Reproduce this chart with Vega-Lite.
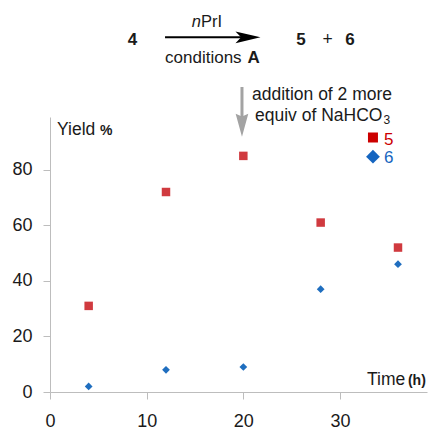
{
  "$schema": "https://vega.github.io/schema/vega-lite/v6.json",
  "width": 377,
  "height": 275,
  "autosize": "none",
  "padding": {"left": 50, "top": 117, "right": 5, "bottom": 37},
  "background": "white",
  "config": {"view": {"stroke": null}, "font": "Liberation Sans"},
  "datasets": {
    "yields": [
      {"series": "5", "time": 4, "yield": 31},
      {"series": "5", "time": 12, "yield": 72},
      {"series": "5", "time": 20, "yield": 85},
      {"series": "5", "time": 28, "yield": 61},
      {"series": "5", "time": 36, "yield": 52},
      {"series": "6", "time": 4, "yield": 2},
      {"series": "6", "time": 12, "yield": 8},
      {"series": "6", "time": 20, "yield": 9},
      {"series": "6", "time": 28, "yield": 37},
      {"series": "6", "time": 36, "yield": 46}
    ]
  },
  "encoding": {
    "x": {
      "field": "time", "type": "quantitative",
      "scale": {"domain": [0, 39], "nice": false, "zero": false},
      "axis": {"title": null, "values": [0, 10, 20, 30], "grid": false, "labelFlush": false,
        "domainColor": "#bdbdbd", "tickColor": "#bdbdbd", "tickSize": 7, "labelFontSize": 18,
        "labelColor": "#1a1a1a", "labelPadding": 13, "labelFont": "Liberation Sans"}
    },
    "y": {
      "field": "yield", "type": "quantitative",
      "scale": {"domain": [0, 99], "nice": false, "zero": false},
      "axis": {"title": null, "values": [0, 20, 40, 60, 80], "grid": false,
        "domainColor": "#bdbdbd", "tickColor": "#bdbdbd", "tickSize": 7, "labelFontSize": 18,
        "labelColor": "#1a1a1a", "labelPadding": 11, "labelFont": "Liberation Sans"}
    }
  },
  "layer": [
    {
      "data": {"name": "yields"},
      "transform": [{"filter": "datum.series == '5'"}],
      "mark": {"type": "point", "shape": "square", "filled": true, "opacity": 1, "size": 72, "color": "#d03a3f"}
    },
    {
      "data": {"name": "yields"},
      "transform": [{"filter": "datum.series == '6'"}],
      "mark": {"type": "point", "shape": "diamond", "filled": true, "opacity": 1, "size": 60, "color": "#1f6ebf"}
    },
    {
      "data": {"values": [{"series": "5", "time": 33.41, "yield": 91.62}]},
      "mark": {"type": "point", "shape": "square", "filled": true, "opacity": 1, "size": 100, "color": "#cc0000"}
    },
    {
      "data": {"values": [{"series": "6", "time": 33.41, "yield": 84.7}]},
      "mark": {"type": "point", "shape": "diamond", "filled": true, "opacity": 1, "size": 190, "color": "#1565c0"}
    },
    {
      "data": {"values": [{"label": "5", "time": 34.55, "yield": 88.92}]},
      "mark": {"type": "text", "align": "left", "baseline": "alphabetic", "fontSize": 17, "color": "#cc0000"},
      "encoding": {"text": {"field": "label"}}
    },
    {
      "data": {"values": [{"label": "6", "time": 34.55, "yield": 82.44}]},
      "mark": {"type": "text", "align": "left", "baseline": "alphabetic", "fontSize": 17, "color": "#1565c0"},
      "encoding": {"text": {"field": "label"}}
    },
    {
      "data": {"values": [{"time": 11.9, "time2": 20.0, "yield": 127.69}]},
      "mark": {"type": "rule", "color": "black", "strokeWidth": 2},
      "encoding": {"x2": {"field": "time2"}}
    },
    {
      "data": {"values": [{"time": 20.48, "yield": 127.69}]},
      "mark": {"type": "point", "shape": "M1,0L-1,-0.47L-0.55,0L-1,0.47Z", "filled": true, "opacity": 1, "size": 625, "color": "black"}
    },
    {
      "data": {"values": [{"time": 19.86, "yield": 109.8, "yield2": 98.0}]},
      "mark": {"type": "rule", "color": "#a3a3a3", "strokeWidth": 3},
      "encoding": {"y2": {"field": "yield2"}}
    },
    {
      "data": {"values": [{"time": 19.86, "yield": 96.05}]},
      "mark": {"type": "point", "shape": "M0,1L-0.55,-1L0,-0.75L0.55,-1Z", "filled": true, "opacity": 1, "size": 529, "color": "#a3a3a3"}
    },
    {
      "data": {"values": [
        {"label": "equiv of NaHCO", "time": 21.21, "yield": 97.56},
        {"label": "Yield", "time": 0.724, "yield": 92.52},
        {"label": "Time", "time": 32.79, "yield": 2.52}
      ]},
      "mark": {"type": "text", "align": "left", "baseline": "alphabetic", "fontSize": 17.5, "color": "#1a1a1a"},
      "encoding": {"text": {"field": "label"}}
    },
    {
      "data": {"values": [{"label": "conditions", "time": 11.9, "yield": 118.44}]},
      "mark": {"type": "text", "align": "left", "baseline": "alphabetic", "fontSize": 17, "color": "#1a1a1a"},
      "encoding": {"text": {"field": "label"}}
    },
    {
      "data": {"values": [
        {"label": "addition of 2 more", "time": 28.14, "yield": 105.12},
        {"label": "+", "time": 28.71, "yield": 124.92}
      ]},
      "mark": {"type": "text", "align": "center", "baseline": "alphabetic", "fontSize": 17.5, "color": "#1a1a1a"},
      "encoding": {"text": {"field": "label"}}
    },
    {
      "data": {"values": [
        {"label": "4", "time": 8.53, "yield": 124.92},
        {"label": "5", "time": 25.97, "yield": 124.92},
        {"label": "6", "time": 31.03, "yield": 124.92}
      ]},
      "mark": {"type": "text", "align": "center", "baseline": "alphabetic", "fontSize": 17, "fontWeight": "bold", "color": "#1a1a1a"},
      "encoding": {"text": {"field": "label"}}
    },
    {
      "data": {"values": [{"label": "A", "time": 20.43, "yield": 118.44}]},
      "mark": {"type": "text", "align": "left", "baseline": "alphabetic", "fontSize": 17, "fontWeight": "bold", "color": "#1a1a1a"},
      "encoding": {"text": {"field": "label"}}
    },
    {
      "data": {"values": [{"label": "n", "time": 15.62, "yield": 131.5}]},
      "mark": {"type": "text", "align": "right", "baseline": "alphabetic", "fontSize": 16.5, "fontStyle": "italic", "color": "#1a1a1a"},
      "encoding": {"text": {"field": "label"}}
    },
    {
      "data": {"values": [{"label": "PrI", "time": 15.62, "yield": 131.5}]},
      "mark": {"type": "text", "align": "left", "baseline": "alphabetic", "fontSize": 16.5, "color": "#1a1a1a"},
      "encoding": {"text": {"field": "label"}}
    },
    {
      "data": {"values": [
        {"label": "%", "time": 5.17, "yield": 92.52},
        {"label": "(h)", "time": 37.03, "yield": 2.52}
      ]},
      "mark": {"type": "text", "align": "left", "baseline": "alphabetic", "fontSize": 14, "fontWeight": "bold", "color": "#1a1a1a"},
      "encoding": {"text": {"field": "label"}}
    },
    {
      "data": {"values": [{"label": "3", "time": 34.5, "yield": 96.6}]},
      "mark": {"type": "text", "align": "left", "baseline": "alphabetic", "fontSize": 12, "color": "#1a1a1a"},
      "encoding": {"text": {"field": "label"}}
    }
  ]
}
